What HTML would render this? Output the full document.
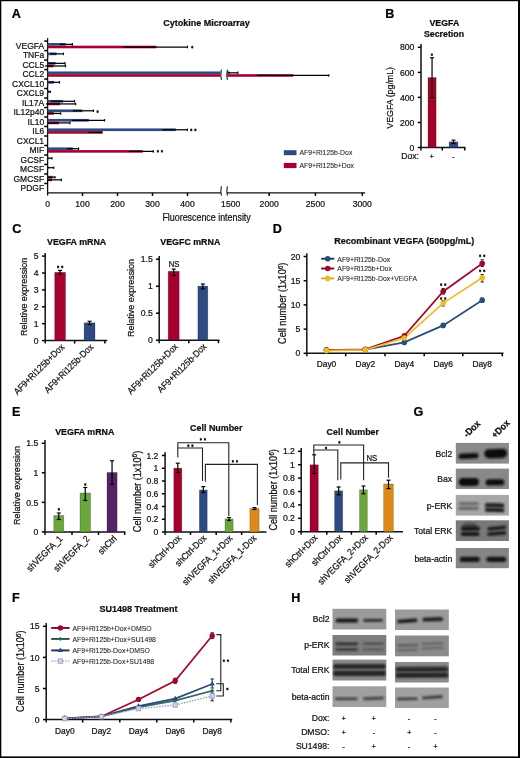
<!DOCTYPE html><html><head><meta charset="utf-8"><style>html,body{margin:0;padding:0;background:#fff}svg{display:block;font-family:"Liberation Sans",sans-serif;will-change:transform}text{stroke:currentColor;stroke-width:0.22px}</style></head><body>
<svg width="520" height="758" viewBox="0 0 520 758" fill="#1a1a1a">
<defs><filter id="bl" x="-20%" y="-50%" width="140%" height="200%"><feGaussianBlur stdDeviation="0.85"/></filter><filter id="bl0" x="-5%" y="-10%" width="110%" height="120%"><feGaussianBlur stdDeviation="0.45"/></filter><filter id="bl2" x="-20%" y="-50%" width="140%" height="200%"><feGaussianBlur stdDeviation="1.1"/></filter></defs>
<rect x="0" y="0" width="520" height="758" fill="#fff"/>
<text x="11.8" y="17.91" font-size="12.6" font-weight="bold" fill="#000">A</text>
<text x="385.3" y="17.91" font-size="12.6" font-weight="bold" fill="#000">B</text>
<text x="12.3" y="232.91" font-size="12.6" font-weight="bold" fill="#000">C</text>
<text x="272.7" y="232.91" font-size="12.6" font-weight="bold" fill="#000">D</text>
<text x="12" y="416.21" font-size="12.6" font-weight="bold" fill="#000">E</text>
<text x="413.6" y="416.21" font-size="12.6" font-weight="bold" fill="#000">G</text>
<text x="12" y="602.41" font-size="12.6" font-weight="bold" fill="#000">F</text>
<text x="291.3" y="602.41" font-size="12.6" font-weight="bold" fill="#000">H</text>
<text transform="translate(206.5 25.96) scale(0.91 1)" font-size="9.9" font-weight="bold" text-anchor="middle" fill="#111">Cytokine Microarray</text>
<line x1="47.6" y1="38.1" x2="47.6" y2="195.6" stroke="#111" stroke-width="1.3"/>
<line x1="44.2" y1="41.1" x2="47.6" y2="41.1" stroke="#000" stroke-width="1.5"/>
<line x1="44.2" y1="50.59" x2="47.6" y2="50.59" stroke="#000" stroke-width="1.5"/>
<line x1="44.2" y1="60.08" x2="47.6" y2="60.08" stroke="#000" stroke-width="1.5"/>
<line x1="44.2" y1="69.57" x2="47.6" y2="69.57" stroke="#000" stroke-width="1.5"/>
<line x1="44.2" y1="79.06" x2="47.6" y2="79.06" stroke="#000" stroke-width="1.5"/>
<line x1="44.2" y1="88.55" x2="47.6" y2="88.55" stroke="#000" stroke-width="1.5"/>
<line x1="44.2" y1="98.04" x2="47.6" y2="98.04" stroke="#000" stroke-width="1.5"/>
<line x1="44.2" y1="107.53" x2="47.6" y2="107.53" stroke="#000" stroke-width="1.5"/>
<line x1="44.2" y1="117.02" x2="47.6" y2="117.02" stroke="#000" stroke-width="1.5"/>
<line x1="44.2" y1="126.51" x2="47.6" y2="126.51" stroke="#000" stroke-width="1.5"/>
<line x1="44.2" y1="136" x2="47.6" y2="136" stroke="#000" stroke-width="1.5"/>
<line x1="44.2" y1="145.49" x2="47.6" y2="145.49" stroke="#000" stroke-width="1.5"/>
<line x1="44.2" y1="154.98" x2="47.6" y2="154.98" stroke="#000" stroke-width="1.5"/>
<line x1="44.2" y1="164.47" x2="47.6" y2="164.47" stroke="#000" stroke-width="1.5"/>
<line x1="44.2" y1="173.96" x2="47.6" y2="173.96" stroke="#000" stroke-width="1.5"/>
<line x1="44.2" y1="183.45" x2="47.6" y2="183.45" stroke="#000" stroke-width="1.5"/>
<text transform="translate(44.1 48.91) scale(0.97 1)" font-size="8.75" text-anchor="end">VEGFA</text>
<text transform="translate(44.1 58.4) scale(0.97 1)" font-size="8.75" text-anchor="end">TNFa</text>
<text transform="translate(44.1 67.89) scale(0.97 1)" font-size="8.75" text-anchor="end">CCL5</text>
<text transform="translate(44.1 77.38) scale(0.97 1)" font-size="8.75" text-anchor="end">CCL2</text>
<text transform="translate(44.1 86.87) scale(0.97 1)" font-size="8.75" text-anchor="end">CXCL10</text>
<text transform="translate(44.1 96.36) scale(0.97 1)" font-size="8.75" text-anchor="end">CXCL9</text>
<text transform="translate(44.1 105.85) scale(0.97 1)" font-size="8.75" text-anchor="end">IL17A</text>
<text transform="translate(44.1 115.34) scale(0.97 1)" font-size="8.75" text-anchor="end">IL12p40</text>
<text transform="translate(44.1 124.83) scale(0.97 1)" font-size="8.75" text-anchor="end">IL10</text>
<text transform="translate(44.1 134.32) scale(0.97 1)" font-size="8.75" text-anchor="end">IL6</text>
<text transform="translate(44.1 143.81) scale(0.97 1)" font-size="8.75" text-anchor="end">CXCL1</text>
<text transform="translate(44.1 153.3) scale(0.97 1)" font-size="8.75" text-anchor="end">MIF</text>
<text transform="translate(44.1 162.79) scale(0.97 1)" font-size="8.75" text-anchor="end">GCSF</text>
<text transform="translate(44.1 172.28) scale(0.97 1)" font-size="8.75" text-anchor="end">MCSF</text>
<text transform="translate(44.1 181.77) scale(0.97 1)" font-size="8.75" text-anchor="end">GMCSF</text>
<text transform="translate(44.1 191.26) scale(0.97 1)" font-size="8.75" text-anchor="end">PDGF</text>
<rect x="47.6" y="43" width="17.9" height="2.7" fill="#2e4a82"/>
<rect x="47.6" y="45.7" width="108.8" height="2.6" fill="#a6002e"/>
<line x1="59.6" y1="44.35" x2="72.4" y2="44.35" stroke="#000" stroke-width="1.25"/>
<line x1="72.4" y1="43.05" x2="72.4" y2="45.65" stroke="#000" stroke-width="1.1"/>
<line x1="123.5" y1="47" x2="187.5" y2="47" stroke="#000" stroke-width="1.25"/>
<line x1="187.5" y1="45.7" x2="187.5" y2="48.3" stroke="#000" stroke-width="1.1"/>
<rect x="47.6" y="52.49" width="8.9" height="2.7" fill="#2e4a82"/>
<rect x="47.6" y="55.19" width="0.7" height="2.6" fill="#a6002e"/>
<line x1="50" y1="53.84" x2="63.5" y2="53.84" stroke="#000" stroke-width="1.25"/>
<line x1="63.5" y1="52.54" x2="63.5" y2="55.14" stroke="#000" stroke-width="1.1"/>
<rect x="47.6" y="61.98" width="7.9" height="2.7" fill="#2e4a82"/>
<rect x="47.6" y="64.68" width="5.9" height="2.6" fill="#a6002e"/>
<line x1="48.5" y1="63.33" x2="65" y2="63.33" stroke="#000" stroke-width="1.25"/>
<line x1="65" y1="62.03" x2="65" y2="64.63" stroke="#000" stroke-width="1.1"/>
<line x1="45" y1="65.98" x2="65.5" y2="65.98" stroke="#000" stroke-width="1.25"/>
<line x1="65.5" y1="64.68" x2="65.5" y2="67.28" stroke="#000" stroke-width="1.1"/>
<rect x="47.6" y="80.96" width="6.4" height="2.7" fill="#2e4a82"/>
<rect x="47.6" y="83.66" width="0.6" height="2.6" fill="#a6002e"/>
<line x1="48.5" y1="82.31" x2="59.5" y2="82.31" stroke="#000" stroke-width="1.25"/>
<line x1="59.5" y1="81.01" x2="59.5" y2="83.61" stroke="#000" stroke-width="1.1"/>
<rect x="47.6" y="90.45" width="1.7" height="2.7" fill="#2e4a82"/>
<rect x="47.6" y="93.15" width="0.2" height="2.6" fill="#a6002e"/>
<line x1="48" y1="91.8" x2="50.3" y2="91.8" stroke="#000" stroke-width="1.25"/>
<line x1="50.3" y1="90.5" x2="50.3" y2="93.1" stroke="#000" stroke-width="1.1"/>
<rect x="47.6" y="99.94" width="15.4" height="2.7" fill="#2e4a82"/>
<rect x="47.6" y="102.64" width="12.4" height="2.6" fill="#a6002e"/>
<line x1="51" y1="101.29" x2="74.5" y2="101.29" stroke="#000" stroke-width="1.25"/>
<line x1="74.5" y1="99.99" x2="74.5" y2="102.59" stroke="#000" stroke-width="1.1"/>
<line x1="46" y1="103.94" x2="75.7" y2="103.94" stroke="#000" stroke-width="1.25"/>
<line x1="75.7" y1="102.64" x2="75.7" y2="105.24" stroke="#000" stroke-width="1.1"/>
<rect x="47.6" y="109.43" width="34.8" height="2.7" fill="#2e4a82"/>
<rect x="47.6" y="112.13" width="6.4" height="2.6" fill="#a6002e"/>
<line x1="72.7" y1="110.78" x2="93.5" y2="110.78" stroke="#000" stroke-width="1.25"/>
<line x1="93.5" y1="109.48" x2="93.5" y2="112.08" stroke="#000" stroke-width="1.1"/>
<line x1="47.5" y1="113.43" x2="60.7" y2="113.43" stroke="#000" stroke-width="1.25"/>
<line x1="60.7" y1="112.13" x2="60.7" y2="114.73" stroke="#000" stroke-width="1.1"/>
<rect x="47.6" y="118.92" width="41.3" height="2.7" fill="#2e4a82"/>
<rect x="47.6" y="121.62" width="11.3" height="2.6" fill="#a6002e"/>
<line x1="72" y1="120.27" x2="104.6" y2="120.27" stroke="#000" stroke-width="1.25"/>
<line x1="104.6" y1="118.97" x2="104.6" y2="121.57" stroke="#000" stroke-width="1.1"/>
<line x1="48" y1="122.92" x2="70" y2="122.92" stroke="#000" stroke-width="1.25"/>
<line x1="70" y1="121.62" x2="70" y2="124.22" stroke="#000" stroke-width="1.1"/>
<rect x="47.6" y="128.41" width="128.2" height="2.7" fill="#2e4a82"/>
<rect x="47.6" y="131.11" width="53.9" height="2.6" fill="#a6002e"/>
<line x1="162.3" y1="129.76" x2="187.4" y2="129.76" stroke="#000" stroke-width="1.25"/>
<line x1="187.4" y1="128.46" x2="187.4" y2="131.06" stroke="#000" stroke-width="1.1"/>
<line x1="88.3" y1="132.41" x2="102" y2="132.41" stroke="#000" stroke-width="1.25"/>
<line x1="102" y1="131.11" x2="102" y2="133.71" stroke="#000" stroke-width="1.1"/>
<rect x="47.6" y="147.39" width="25.2" height="2.7" fill="#2e4a82"/>
<rect x="47.6" y="150.09" width="95.2" height="2.6" fill="#a6002e"/>
<line x1="67" y1="148.74" x2="78.6" y2="148.74" stroke="#000" stroke-width="1.25"/>
<line x1="78.6" y1="147.44" x2="78.6" y2="150.04" stroke="#000" stroke-width="1.1"/>
<line x1="128.7" y1="151.39" x2="153.3" y2="151.39" stroke="#000" stroke-width="1.25"/>
<line x1="153.3" y1="150.09" x2="153.3" y2="152.69" stroke="#000" stroke-width="1.1"/>
<rect x="47.6" y="156.88" width="0.9" height="2.7" fill="#2e4a82"/>
<rect x="47.6" y="159.58" width="0.2" height="2.6" fill="#a6002e"/>
<line x1="47.5" y1="158.23" x2="52" y2="158.23" stroke="#000" stroke-width="1.25"/>
<line x1="52" y1="156.93" x2="52" y2="159.53" stroke="#000" stroke-width="1.1"/>
<rect x="47.6" y="166.37" width="0.9" height="2.7" fill="#2e4a82"/>
<rect x="47.6" y="169.07" width="0.2" height="2.6" fill="#a6002e"/>
<line x1="47.5" y1="167.72" x2="53.8" y2="167.72" stroke="#000" stroke-width="1.25"/>
<line x1="53.8" y1="166.42" x2="53.8" y2="169.02" stroke="#000" stroke-width="1.1"/>
<rect x="47.6" y="175.86" width="5.1" height="2.7" fill="#2e4a82"/>
<rect x="47.6" y="178.56" width="4.4" height="2.6" fill="#a6002e"/>
<line x1="47.5" y1="177.21" x2="55" y2="177.21" stroke="#000" stroke-width="1.25"/>
<line x1="55" y1="175.91" x2="55" y2="178.51" stroke="#000" stroke-width="1.1"/>
<line x1="47.5" y1="179.86" x2="61.3" y2="179.86" stroke="#000" stroke-width="1.25"/>
<line x1="61.3" y1="178.56" x2="61.3" y2="181.16" stroke="#000" stroke-width="1.1"/>
<rect x="47.6" y="71.47" width="172.7" height="2.7" fill="#2e4a82"/>
<rect x="47.6" y="74.17" width="172.7" height="2.6" fill="#a6002e"/>
<rect x="227.3" y="71.47" width="2.5" height="2.7" fill="#2e4a82"/>
<rect x="227.3" y="74.17" width="66" height="2.6" fill="#a6002e"/>
<line x1="228" y1="72.82" x2="237.9" y2="72.82" stroke="#000" stroke-width="1.25"/>
<line x1="237.9" y1="71.52" x2="237.9" y2="74.12" stroke="#000" stroke-width="1.1"/>
<line x1="256.6" y1="75.47" x2="328.8" y2="75.47" stroke="#000" stroke-width="1.25"/>
<line x1="328.8" y1="74.17" x2="328.8" y2="76.77" stroke="#000" stroke-width="1.1"/>
<path d="M221.4 69.7 Q220.2 74.75 221.4 79.8" fill="none" stroke="#1a1a1a" stroke-width="1.1"/>
<path d="M227.4 69.7 Q226.2 74.75 227.4 79.8" fill="none" stroke="#1a1a1a" stroke-width="1.1"/>
<path d="M192.3 45.8 v2.8 M191.22 46.58 l2.16 1.24 M191.22 47.82 l2.16 -1.24" stroke="#111" stroke-width="0.85" fill="none"/>
<circle cx="192.3" cy="47.2" r="0.85" fill="#111"/>
<path d="M97.6 110.2 v2.8 M96.52 110.98 l2.16 1.24 M96.52 112.22 l2.16 -1.24" stroke="#111" stroke-width="0.85" fill="none"/>
<circle cx="97.6" cy="111.6" r="0.85" fill="#111"/>
<path d="M191.3 128.5 v2.8 M190.22 129.28 l2.16 1.24 M190.22 130.52 l2.16 -1.24" stroke="#111" stroke-width="0.85" fill="none"/>
<circle cx="191.3" cy="129.9" r="0.85" fill="#111"/>
<path d="M195.4 128.5 v2.8 M194.32 129.28 l2.16 1.24 M194.32 130.52 l2.16 -1.24" stroke="#111" stroke-width="0.85" fill="none"/>
<circle cx="195.4" cy="129.9" r="0.85" fill="#111"/>
<path d="M157.85 149.9 v2.8 M156.77 150.68 l2.16 1.24 M156.77 151.92 l2.16 -1.24" stroke="#111" stroke-width="0.85" fill="none"/>
<circle cx="157.85" cy="151.3" r="0.85" fill="#111"/>
<path d="M161.95 149.9 v2.8 M160.87 150.68 l2.16 1.24 M160.87 151.92 l2.16 -1.24" stroke="#111" stroke-width="0.85" fill="none"/>
<circle cx="161.95" cy="151.3" r="0.85" fill="#111"/>
<line x1="47" y1="192.9" x2="220.9" y2="192.9" stroke="#111" stroke-width="1.3"/>
<line x1="226.9" y1="192.9" x2="365.2" y2="192.9" stroke="#111" stroke-width="1.3"/>
<path d="M221.4 186.3 Q220.2 190.95 221.4 195.6" fill="none" stroke="#1a1a1a" stroke-width="1.1"/>
<path d="M227.4 186.3 Q226.2 190.95 227.4 195.6" fill="none" stroke="#1a1a1a" stroke-width="1.1"/>
<line x1="82.5" y1="192.9" x2="82.5" y2="195.9" stroke="#000" stroke-width="1.5"/>
<text transform="translate(82.5 206.65) scale(0.96 1)" font-size="9" text-anchor="middle">100</text>
<line x1="117.5" y1="192.9" x2="117.5" y2="195.9" stroke="#000" stroke-width="1.5"/>
<text transform="translate(117.5 206.65) scale(0.96 1)" font-size="9" text-anchor="middle">200</text>
<line x1="152.5" y1="192.9" x2="152.5" y2="195.9" stroke="#000" stroke-width="1.5"/>
<text transform="translate(152.5 206.65) scale(0.96 1)" font-size="9" text-anchor="middle">300</text>
<line x1="187.5" y1="192.9" x2="187.5" y2="195.9" stroke="#000" stroke-width="1.5"/>
<text transform="translate(187.5 206.65) scale(0.96 1)" font-size="9" text-anchor="middle">400</text>
<line x1="269.2" y1="192.9" x2="269.2" y2="195.9" stroke="#000" stroke-width="1.5"/>
<text transform="translate(269.2 206.65) scale(0.96 1)" font-size="9" text-anchor="middle">2000</text>
<line x1="315.4" y1="192.9" x2="315.4" y2="195.9" stroke="#000" stroke-width="1.5"/>
<text transform="translate(315.4 206.65) scale(0.96 1)" font-size="9" text-anchor="middle">2500</text>
<line x1="362.3" y1="192.9" x2="362.3" y2="195.9" stroke="#000" stroke-width="1.5"/>
<text transform="translate(362.3 206.65) scale(0.96 1)" font-size="9" text-anchor="middle">3000</text>
<text transform="translate(47.6 206.65) scale(0.96 1)" font-size="9" text-anchor="middle">0</text>
<text transform="translate(230.7 206.65) scale(0.96 1)" font-size="9" text-anchor="middle">1500</text>
<text x="206.6" y="220.5" font-size="10" text-anchor="middle" textLength="88.4" lengthAdjust="spacingAndGlyphs">Fluorescence intensity</text>
<rect x="283.8" y="150.2" width="12.7" height="5" fill="#2e4a82"/>
<rect x="283.8" y="162.9" width="12.7" height="5.2" fill="#a6002e"/>
<text transform="translate(299.5 155.49) scale(0.93 1)" font-size="7.4" fill="#2a2a2a" style="stroke-width:0.08px">AF9+Ri125b-Dox</text>
<text transform="translate(299.5 168.29) scale(0.93 1)" font-size="7.4" fill="#2a2a2a" style="stroke-width:0.08px">AF9+Ri125b+Dox</text>
<text transform="translate(444.4 26.49) scale(0.91 1)" font-size="9.68" font-weight="bold" text-anchor="middle" fill="#111">VEGFA</text>
<text transform="translate(444 37.29) scale(0.91 1)" font-size="9.68" font-weight="bold" text-anchor="middle" fill="#111">Secretion</text>
<line x1="421" y1="44.1" x2="421" y2="150.5" stroke="#111" stroke-width="1.5"/>
<line x1="417.8" y1="47.3" x2="421" y2="47.3" stroke="#000" stroke-width="1.5"/>
<text transform="translate(414.4 50.45) scale(0.96 1)" font-size="9" text-anchor="end">800</text>
<line x1="417.8" y1="72.4" x2="421" y2="72.4" stroke="#000" stroke-width="1.5"/>
<text transform="translate(414.4 75.55) scale(0.96 1)" font-size="9" text-anchor="end">600</text>
<line x1="417.8" y1="97.4" x2="421" y2="97.4" stroke="#000" stroke-width="1.5"/>
<text transform="translate(414.4 100.55) scale(0.96 1)" font-size="9" text-anchor="end">400</text>
<line x1="417.8" y1="122.5" x2="421" y2="122.5" stroke="#000" stroke-width="1.5"/>
<text transform="translate(414.4 125.65) scale(0.96 1)" font-size="9" text-anchor="end">200</text>
<line x1="417.8" y1="147.5" x2="421" y2="147.5" stroke="#000" stroke-width="1.5"/>
<text transform="translate(414.4 150.65) scale(0.96 1)" font-size="9" text-anchor="end">0</text>
<line x1="421" y1="147.5" x2="465.5" y2="147.5" stroke="#111" stroke-width="1.5"/>
<line x1="442.3" y1="147.5" x2="442.3" y2="150.5" stroke="#000" stroke-width="1.5"/>
<line x1="464.7" y1="147.5" x2="464.7" y2="150.5" stroke="#000" stroke-width="1.5"/>
<text transform="translate(393.1 97.8) rotate(-90) scale(0.91 1)" font-size="9.68" text-anchor="middle" fill="#1a1a1a">VEGFA (pg/mL)</text>
<rect x="428" y="77.6" width="8.1" height="69.9" fill="#a6002e" stroke="#000" stroke-opacity="0.3" stroke-width="0.7"/>
<line x1="432.05" y1="57.8" x2="432.05" y2="97.7" stroke="#000" stroke-width="1.2"/>
<line x1="430.05" y1="57.8" x2="434.05" y2="57.8" stroke="#000" stroke-width="1.2"/>
<line x1="430.05" y1="97.7" x2="434.05" y2="97.7" stroke="#000" stroke-width="1.2"/>
<path d="M431.9 53.2 v2.8 M430.82 53.98 l2.16 1.24 M430.82 55.22 l2.16 -1.24" stroke="#111" stroke-width="0.85" fill="none"/>
<circle cx="431.9" cy="54.6" r="0.85" fill="#111"/>
<rect x="449.1" y="141.9" width="8.8" height="5.6" fill="#2e4a82" stroke="#000" stroke-opacity="0.3" stroke-width="0.7"/>
<line x1="453.5" y1="140.2" x2="453.5" y2="143.5" stroke="#000" stroke-width="1.2"/>
<line x1="451.5" y1="140.2" x2="455.5" y2="140.2" stroke="#000" stroke-width="1.2"/>
<line x1="451.5" y1="143.5" x2="455.5" y2="143.5" stroke="#000" stroke-width="1.2"/>
<text x="419" y="159.31" font-size="8.6" text-anchor="end">Dox:</text>
<text x="431.8" y="159.38" font-size="6.8" text-anchor="middle" fill="#2a2a2a">+</text>
<text x="453.4" y="158.98" font-size="6.8" text-anchor="middle" fill="#2a2a2a">-</text>
<text transform="translate(76.6 244.71) scale(0.91 1)" font-size="9.74" font-weight="bold" text-anchor="middle" fill="#111">VEGFA mRNA</text>
<line x1="45.2" y1="252.9" x2="45.2" y2="343.6" stroke="#111" stroke-width="1.5"/>
<line x1="42" y1="340.6" x2="45.2" y2="340.6" stroke="#000" stroke-width="1.5"/>
<text transform="translate(38.6 343.75) scale(0.96 1)" font-size="9" text-anchor="end">0</text>
<line x1="42" y1="323.7" x2="45.2" y2="323.7" stroke="#000" stroke-width="1.5"/>
<text transform="translate(38.6 326.85) scale(0.96 1)" font-size="9" text-anchor="end">1</text>
<line x1="42" y1="306.8" x2="45.2" y2="306.8" stroke="#000" stroke-width="1.5"/>
<text transform="translate(38.6 309.95) scale(0.96 1)" font-size="9" text-anchor="end">2</text>
<line x1="42" y1="289.9" x2="45.2" y2="289.9" stroke="#000" stroke-width="1.5"/>
<text transform="translate(38.6 293.05) scale(0.96 1)" font-size="9" text-anchor="end">3</text>
<line x1="42" y1="273" x2="45.2" y2="273" stroke="#000" stroke-width="1.5"/>
<text transform="translate(38.6 276.15) scale(0.96 1)" font-size="9" text-anchor="end">4</text>
<line x1="42" y1="256.1" x2="45.2" y2="256.1" stroke="#000" stroke-width="1.5"/>
<text transform="translate(38.6 259.25) scale(0.96 1)" font-size="9" text-anchor="end">5</text>
<line x1="45.2" y1="340.6" x2="107.2" y2="340.6" stroke="#111" stroke-width="1.5"/>
<line x1="74.6" y1="340.6" x2="74.6" y2="343.6" stroke="#000" stroke-width="1.5"/>
<line x1="104.9" y1="340.6" x2="104.9" y2="343.6" stroke="#000" stroke-width="1.5"/>
<text transform="translate(27 296.9) rotate(-90) scale(0.91 1)" font-size="9.85" text-anchor="middle" fill="#1a1a1a">Relative expression</text>
<rect x="54.7" y="272.3" width="10.8" height="68.3" fill="#a6002e" stroke="#000" stroke-opacity="0.3" stroke-width="0.7"/>
<line x1="60.1" y1="270.4" x2="60.1" y2="274.2" stroke="#000" stroke-width="1.2"/>
<line x1="58.1" y1="270.4" x2="62.1" y2="270.4" stroke="#000" stroke-width="1.2"/>
<line x1="58.1" y1="274.2" x2="62.1" y2="274.2" stroke="#000" stroke-width="1.2"/>
<path d="M58.15 265.5 v2.8 M57.07 266.28 l2.16 1.24 M57.07 267.52 l2.16 -1.24" stroke="#111" stroke-width="0.85" fill="none"/>
<circle cx="58.15" cy="266.9" r="0.85" fill="#111"/>
<path d="M62.25 265.5 v2.8 M61.17 266.28 l2.16 1.24 M61.17 267.52 l2.16 -1.24" stroke="#111" stroke-width="0.85" fill="none"/>
<circle cx="62.25" cy="266.9" r="0.85" fill="#111"/>
<rect x="84.1" y="322.8" width="10.9" height="17.8" fill="#2e4a82" stroke="#000" stroke-opacity="0.3" stroke-width="0.7"/>
<line x1="89.55" y1="321.3" x2="89.55" y2="324.5" stroke="#000" stroke-width="1.2"/>
<line x1="87.55" y1="321.3" x2="91.55" y2="321.3" stroke="#000" stroke-width="1.2"/>
<line x1="87.55" y1="324.5" x2="91.55" y2="324.5" stroke="#000" stroke-width="1.2"/>
<text transform="translate(64.9 347.7) rotate(-45) scale(0.91 1)" font-size="9.29" text-anchor="end" fill="#1a1a1a">AF9+Ri125b+Dox</text>
<text transform="translate(93.9 347.7) rotate(-45) scale(0.91 1)" font-size="9.29" text-anchor="end" fill="#1a1a1a">AF9+Ri125b-Dox</text>
<text transform="translate(190.3 245.01) scale(0.91 1)" font-size="9.74" font-weight="bold" text-anchor="middle" fill="#111">VEGFC mRNA</text>
<line x1="159.2" y1="256" x2="159.2" y2="343.2" stroke="#111" stroke-width="1.5"/>
<line x1="156" y1="259.2" x2="159.2" y2="259.2" stroke="#000" stroke-width="1.5"/>
<text transform="translate(152.7 262.35) scale(0.96 1)" font-size="9" text-anchor="end">1.5</text>
<line x1="156" y1="286.2" x2="159.2" y2="286.2" stroke="#000" stroke-width="1.5"/>
<text transform="translate(152.7 289.35) scale(0.96 1)" font-size="9" text-anchor="end">1</text>
<line x1="156" y1="313.2" x2="159.2" y2="313.2" stroke="#000" stroke-width="1.5"/>
<text transform="translate(152.7 316.35) scale(0.96 1)" font-size="9" text-anchor="end">0.5</text>
<line x1="156" y1="340.2" x2="159.2" y2="340.2" stroke="#000" stroke-width="1.5"/>
<text transform="translate(152.7 343.35) scale(0.96 1)" font-size="9" text-anchor="end">0</text>
<line x1="159.2" y1="340.2" x2="219.5" y2="340.2" stroke="#111" stroke-width="1.5"/>
<line x1="188.8" y1="340.2" x2="188.8" y2="343.2" stroke="#000" stroke-width="1.5"/>
<line x1="218.5" y1="340.2" x2="218.5" y2="343.2" stroke="#000" stroke-width="1.5"/>
<text transform="translate(133.9 298) rotate(-90) scale(0.91 1)" font-size="9.85" text-anchor="middle" fill="#1a1a1a">Relative expression</text>
<rect x="168.2" y="271.3" width="11" height="68.9" fill="#a6002e" stroke="#000" stroke-opacity="0.3" stroke-width="0.7"/>
<line x1="173.7" y1="269.1" x2="173.7" y2="275.5" stroke="#000" stroke-width="1.2"/>
<line x1="171.7" y1="269.1" x2="175.7" y2="269.1" stroke="#000" stroke-width="1.2"/>
<line x1="171.7" y1="275.5" x2="175.7" y2="275.5" stroke="#000" stroke-width="1.2"/>
<text transform="translate(174 266.61) scale(0.9 1)" font-size="8.6" text-anchor="middle">NS</text>
<rect x="197.9" y="286.1" width="9.9" height="54.1" fill="#2e4a82" stroke="#000" stroke-opacity="0.3" stroke-width="0.7"/>
<line x1="202.85" y1="284" x2="202.85" y2="288.8" stroke="#000" stroke-width="1.2"/>
<line x1="200.85" y1="284" x2="204.85" y2="284" stroke="#000" stroke-width="1.2"/>
<line x1="200.85" y1="288.8" x2="204.85" y2="288.8" stroke="#000" stroke-width="1.2"/>
<text transform="translate(178.5 347.3) rotate(-45) scale(0.91 1)" font-size="9.29" text-anchor="end" fill="#1a1a1a">AF9+Ri125b+Dox</text>
<text transform="translate(207.1 347.3) rotate(-45) scale(0.91 1)" font-size="9.29" text-anchor="end" fill="#1a1a1a">AF9+Ri125b-Dox</text>
<text x="404.2" y="244.47" font-size="9.9" font-weight="bold" text-anchor="middle" fill="#111" textLength="140" lengthAdjust="spacingAndGlyphs">Recombinant VEGFA (500pg/mL)</text>
<line x1="306.8" y1="253.3" x2="306.8" y2="356.3" stroke="#111" stroke-width="1.5"/>
<line x1="303.6" y1="353.3" x2="306.8" y2="353.3" stroke="#000" stroke-width="1.5"/>
<text transform="translate(300.3 356.45) scale(0.96 1)" font-size="9" text-anchor="end">0</text>
<line x1="303.6" y1="329.1" x2="306.8" y2="329.1" stroke="#000" stroke-width="1.5"/>
<text transform="translate(300.3 332.25) scale(0.96 1)" font-size="9" text-anchor="end">5</text>
<line x1="303.6" y1="304.9" x2="306.8" y2="304.9" stroke="#000" stroke-width="1.5"/>
<text transform="translate(300.3 308.05) scale(0.96 1)" font-size="9" text-anchor="end">10</text>
<line x1="303.6" y1="280.7" x2="306.8" y2="280.7" stroke="#000" stroke-width="1.5"/>
<text transform="translate(300.3 283.85) scale(0.96 1)" font-size="9" text-anchor="end">15</text>
<line x1="303.6" y1="256.5" x2="306.8" y2="256.5" stroke="#000" stroke-width="1.5"/>
<text transform="translate(300.3 259.65) scale(0.96 1)" font-size="9" text-anchor="end">20</text>
<line x1="306.8" y1="353.3" x2="503.5" y2="353.3" stroke="#111" stroke-width="1.5"/>
<line x1="345.7" y1="353.3" x2="345.7" y2="356.3" stroke="#000" stroke-width="1.5"/>
<line x1="385" y1="353.3" x2="385" y2="356.3" stroke="#000" stroke-width="1.5"/>
<line x1="424.2" y1="353.3" x2="424.2" y2="356.3" stroke="#000" stroke-width="1.5"/>
<line x1="462.8" y1="353.3" x2="462.8" y2="356.3" stroke="#000" stroke-width="1.5"/>
<line x1="502.3" y1="353.3" x2="502.3" y2="356.3" stroke="#000" stroke-width="1.5"/>
<text x="326.5" y="367.24" font-size="8.4" text-anchor="middle">Day0</text>
<text x="365.4" y="367.24" font-size="8.4" text-anchor="middle">Day2</text>
<text x="404.3" y="367.24" font-size="8.4" text-anchor="middle">Day4</text>
<text x="443.2" y="367.24" font-size="8.4" text-anchor="middle">Day6</text>
<text x="482.2" y="367.24" font-size="8.4" text-anchor="middle">Day8</text>
<text transform="translate(286.1 303.3) rotate(-90) scale(0.91 1)" font-size="10.07" text-anchor="middle" fill="#1a1a1a">Cell number (1x10<tspan font-size="7.05" dy="-3.4">6</tspan><tspan dy="3.4">)</tspan></text>
<polyline points="326.5,350 365.4,349.6 404.3,342.4 443.2,325.4 482.2,300.2" fill="none" stroke="#2c4c7c" stroke-width="1.7"/>
<polyline points="326.5,350 365.4,349.4 404.3,335.7 443.2,291.5 482.2,263.5" fill="none" stroke="#a3082c" stroke-width="1.7"/>
<polyline points="326.5,350.6 365.4,349.8 404.3,338 443.2,303.1 482.2,277.7" fill="none" stroke="#eebb28" stroke-width="1.7"/>
<line x1="482.2" y1="259.8" x2="482.2" y2="266.5" stroke="#222" stroke-width="1"/>
<line x1="480.6" y1="259.8" x2="483.8" y2="259.8" stroke="#222" stroke-width="1"/>
<line x1="480.6" y1="266.5" x2="483.8" y2="266.5" stroke="#222" stroke-width="1"/>
<line x1="443.2" y1="288.5" x2="443.2" y2="294" stroke="#222" stroke-width="1"/>
<line x1="441.6" y1="288.5" x2="444.8" y2="288.5" stroke="#222" stroke-width="1"/>
<line x1="441.6" y1="294" x2="444.8" y2="294" stroke="#222" stroke-width="1"/>
<line x1="482.2" y1="274.6" x2="482.2" y2="282" stroke="#222" stroke-width="1"/>
<line x1="480.6" y1="274.6" x2="483.8" y2="274.6" stroke="#222" stroke-width="1"/>
<line x1="480.6" y1="282" x2="483.8" y2="282" stroke="#222" stroke-width="1"/>
<line x1="443.2" y1="300.5" x2="443.2" y2="306" stroke="#222" stroke-width="1"/>
<line x1="441.6" y1="300.5" x2="444.8" y2="300.5" stroke="#222" stroke-width="1"/>
<line x1="441.6" y1="306" x2="444.8" y2="306" stroke="#222" stroke-width="1"/>
<line x1="482.2" y1="298" x2="482.2" y2="302.5" stroke="#222" stroke-width="1"/>
<line x1="480.6" y1="298" x2="483.8" y2="298" stroke="#222" stroke-width="1"/>
<line x1="480.6" y1="302.5" x2="483.8" y2="302.5" stroke="#222" stroke-width="1"/>
<circle cx="326.5" cy="350" r="2.8" fill="#2c4c7c"/>
<circle cx="365.4" cy="349.6" r="2.8" fill="#2c4c7c"/>
<circle cx="404.3" cy="342.4" r="2.8" fill="#2c4c7c"/>
<circle cx="443.2" cy="325.4" r="2.8" fill="#2c4c7c"/>
<circle cx="482.2" cy="300.2" r="2.8" fill="#2c4c7c"/>
<circle cx="326.5" cy="350" r="2.8" fill="#a3082c"/>
<circle cx="365.4" cy="349.4" r="2.8" fill="#a3082c"/>
<circle cx="404.3" cy="335.7" r="2.8" fill="#a3082c"/>
<circle cx="443.2" cy="291.5" r="2.8" fill="#a3082c"/>
<circle cx="482.2" cy="263.5" r="2.8" fill="#a3082c"/>
<circle cx="326.5" cy="350.6" r="2.8" fill="#eebb28"/>
<circle cx="365.4" cy="349.8" r="2.8" fill="#eebb28"/>
<circle cx="404.3" cy="338" r="2.8" fill="#eebb28"/>
<circle cx="443.2" cy="303.1" r="2.8" fill="#eebb28"/>
<circle cx="482.2" cy="277.7" r="2.8" fill="#eebb28"/>
<path d="M441.15 283.2 v2.8 M440.07 283.98 l2.16 1.24 M440.07 285.22 l2.16 -1.24" stroke="#111" stroke-width="0.85" fill="none"/>
<circle cx="441.15" cy="284.6" r="0.85" fill="#111"/>
<path d="M445.25 283.2 v2.8 M444.17 283.98 l2.16 1.24 M444.17 285.22 l2.16 -1.24" stroke="#111" stroke-width="0.85" fill="none"/>
<circle cx="445.25" cy="284.6" r="0.85" fill="#111"/>
<path d="M441.15 297.1 v2.8 M440.07 297.88 l2.16 1.24 M440.07 299.12 l2.16 -1.24" stroke="#111" stroke-width="0.85" fill="none"/>
<circle cx="441.15" cy="298.5" r="0.85" fill="#111"/>
<path d="M445.25 297.1 v2.8 M444.17 297.88 l2.16 1.24 M444.17 299.12 l2.16 -1.24" stroke="#111" stroke-width="0.85" fill="none"/>
<circle cx="445.25" cy="298.5" r="0.85" fill="#111"/>
<path d="M480.15 254.4 v2.8 M479.07 255.18 l2.16 1.24 M479.07 256.42 l2.16 -1.24" stroke="#111" stroke-width="0.85" fill="none"/>
<circle cx="480.15" cy="255.8" r="0.85" fill="#111"/>
<path d="M484.25 254.4 v2.8 M483.17 255.18 l2.16 1.24 M483.17 256.42 l2.16 -1.24" stroke="#111" stroke-width="0.85" fill="none"/>
<circle cx="484.25" cy="255.8" r="0.85" fill="#111"/>
<path d="M480.15 269.4 v2.8 M479.07 270.18 l2.16 1.24 M479.07 271.42 l2.16 -1.24" stroke="#111" stroke-width="0.85" fill="none"/>
<circle cx="480.15" cy="270.8" r="0.85" fill="#111"/>
<path d="M484.25 269.4 v2.8 M483.17 270.18 l2.16 1.24 M483.17 271.42 l2.16 -1.24" stroke="#111" stroke-width="0.85" fill="none"/>
<circle cx="484.25" cy="270.8" r="0.85" fill="#111"/>
<line x1="321.2" y1="258.7" x2="334.2" y2="258.7" stroke="#2c4c7c" stroke-width="1.7"/>
<line x1="321.2" y1="258.7" x2="334.2" y2="258.7" stroke="#000" stroke-width="1.7" stroke-opacity="0.35"/>
<circle cx="327.7" cy="258.7" r="2.8" fill="#2c4c7c"/>
<text transform="translate(337.3 261.59) scale(0.93 1)" font-size="7.4" fill="#2a2a2a" style="stroke-width:0.08px">AF9+Ri125b-Dox</text>
<line x1="321.2" y1="268.5" x2="334.2" y2="268.5" stroke="#a3082c" stroke-width="1.7"/>
<line x1="321.2" y1="268.5" x2="334.2" y2="268.5" stroke="#000" stroke-width="1.7" stroke-opacity="0.35"/>
<circle cx="327.7" cy="268.5" r="2.8" fill="#a3082c"/>
<text transform="translate(337.3 271.39) scale(0.93 1)" font-size="7.4" fill="#2a2a2a" style="stroke-width:0.08px">AF9+Ri125b+Dox</text>
<line x1="321.2" y1="278.4" x2="334.2" y2="278.4" stroke="#eebb28" stroke-width="1.7"/>
<line x1="321.2" y1="278.4" x2="334.2" y2="278.4" stroke="#000" stroke-width="1.7" stroke-opacity="0.15"/>
<circle cx="327.7" cy="278.4" r="2.8" fill="#eebb28"/>
<text transform="translate(337.3 281.29) scale(0.93 1)" font-size="7.4" fill="#2a2a2a" style="stroke-width:0.08px">AF9+Ri125b-Dox+VEGFA</text>
<text transform="translate(84.8 435.41) scale(0.91 1)" font-size="9.74" font-weight="bold" text-anchor="middle" fill="#111">VEGFA mRNA</text>
<line x1="45" y1="440.05" x2="45" y2="534.9" stroke="#111" stroke-width="1.5"/>
<line x1="41.8" y1="531.9" x2="45" y2="531.9" stroke="#000" stroke-width="1.5"/>
<text transform="translate(38.3 535.05) scale(0.96 1)" font-size="9" text-anchor="end">0</text>
<line x1="41.8" y1="502.35" x2="45" y2="502.35" stroke="#000" stroke-width="1.5"/>
<text transform="translate(38.3 505.5) scale(0.96 1)" font-size="9" text-anchor="end">0.5</text>
<line x1="41.8" y1="472.8" x2="45" y2="472.8" stroke="#000" stroke-width="1.5"/>
<text transform="translate(38.3 475.95) scale(0.96 1)" font-size="9" text-anchor="end">1</text>
<line x1="41.8" y1="443.25" x2="45" y2="443.25" stroke="#000" stroke-width="1.5"/>
<text transform="translate(38.3 446.4) scale(0.96 1)" font-size="9" text-anchor="end">1.5</text>
<line x1="45" y1="531.9" x2="125.2" y2="531.9" stroke="#111" stroke-width="1.5"/>
<line x1="72" y1="531.9" x2="72" y2="534.9" stroke="#000" stroke-width="1.5"/>
<line x1="98.5" y1="531.9" x2="98.5" y2="534.9" stroke="#000" stroke-width="1.5"/>
<line x1="124.7" y1="531.9" x2="124.7" y2="534.9" stroke="#000" stroke-width="1.5"/>
<text transform="translate(20 485.5) rotate(-90) scale(0.91 1)" font-size="9.96" text-anchor="middle" fill="#1a1a1a">Relative expression</text>
<rect x="53.8" y="515.5" width="10" height="16.4" fill="#6aa83c" stroke="#000" stroke-opacity="0.3" stroke-width="0.7"/>
<line x1="58.8" y1="513" x2="58.8" y2="519.5" stroke="#000" stroke-width="1.2"/>
<line x1="56.8" y1="513" x2="60.8" y2="513" stroke="#000" stroke-width="1.2"/>
<line x1="56.8" y1="519.5" x2="60.8" y2="519.5" stroke="#000" stroke-width="1.2"/>
<path d="M58.8 507.9 v2.8 M57.72 508.68 l2.16 1.24 M57.72 509.92 l2.16 -1.24" stroke="#111" stroke-width="0.85" fill="none"/>
<circle cx="58.8" cy="509.3" r="0.85" fill="#111"/>
<rect x="80" y="493" width="10.5" height="38.9" fill="#6aa83c" stroke="#000" stroke-opacity="0.3" stroke-width="0.7"/>
<line x1="85.25" y1="487.5" x2="85.25" y2="500.5" stroke="#000" stroke-width="1.2"/>
<line x1="83.25" y1="487.5" x2="87.25" y2="487.5" stroke="#000" stroke-width="1.2"/>
<line x1="83.25" y1="500.5" x2="87.25" y2="500.5" stroke="#000" stroke-width="1.2"/>
<path d="M85.3 483.1 v2.8 M84.22 483.88 l2.16 1.24 M84.22 485.12 l2.16 -1.24" stroke="#111" stroke-width="0.85" fill="none"/>
<circle cx="85.3" cy="484.5" r="0.85" fill="#111"/>
<rect x="107" y="472.5" width="10.1" height="59.4" fill="#562266" stroke="#000" stroke-opacity="0.3" stroke-width="0.7"/>
<line x1="112.05" y1="460.8" x2="112.05" y2="484.5" stroke="#000" stroke-width="1.2"/>
<line x1="110.05" y1="460.8" x2="114.05" y2="460.8" stroke="#000" stroke-width="1.2"/>
<line x1="110.05" y1="484.5" x2="114.05" y2="484.5" stroke="#000" stroke-width="1.2"/>
<text transform="translate(63.1 539.3) rotate(-45) scale(0.91 1)" font-size="9.29" text-anchor="end" fill="#1a1a1a">shVEGFA_1</text>
<text transform="translate(90.1 539.3) rotate(-45) scale(0.91 1)" font-size="9.29" text-anchor="end" fill="#1a1a1a">shVEGFA_2</text>
<text transform="translate(117.3 539.3) rotate(-45) scale(0.91 1)" font-size="9.29" text-anchor="end" fill="#1a1a1a">shCtrl</text>
<text transform="translate(216.3 431.43) scale(0.91 1)" font-size="9.79" font-weight="bold" text-anchor="middle" fill="#111">Cell Number</text>
<line x1="165.1" y1="452.3" x2="165.1" y2="535" stroke="#111" stroke-width="1.5"/>
<line x1="161.9" y1="532" x2="165.1" y2="532" stroke="#000" stroke-width="1.5"/>
<text transform="translate(158.4 535.15) scale(0.96 1)" font-size="9" text-anchor="end">0</text>
<line x1="161.9" y1="519.25" x2="165.1" y2="519.25" stroke="#000" stroke-width="1.5"/>
<text transform="translate(158.4 522.4) scale(0.96 1)" font-size="9" text-anchor="end">0.2</text>
<line x1="161.9" y1="506.5" x2="165.1" y2="506.5" stroke="#000" stroke-width="1.5"/>
<text transform="translate(158.4 509.65) scale(0.96 1)" font-size="9" text-anchor="end">0.4</text>
<line x1="161.9" y1="493.75" x2="165.1" y2="493.75" stroke="#000" stroke-width="1.5"/>
<text transform="translate(158.4 496.9) scale(0.96 1)" font-size="9" text-anchor="end">0.6</text>
<line x1="161.9" y1="481" x2="165.1" y2="481" stroke="#000" stroke-width="1.5"/>
<text transform="translate(158.4 484.15) scale(0.96 1)" font-size="9" text-anchor="end">0.8</text>
<line x1="161.9" y1="468.25" x2="165.1" y2="468.25" stroke="#000" stroke-width="1.5"/>
<text transform="translate(158.4 471.4) scale(0.96 1)" font-size="9" text-anchor="end">1</text>
<line x1="161.9" y1="455.5" x2="165.1" y2="455.5" stroke="#000" stroke-width="1.5"/>
<text transform="translate(158.4 458.65) scale(0.96 1)" font-size="9" text-anchor="end">1.2</text>
<line x1="165.1" y1="532" x2="266.5" y2="532" stroke="#111" stroke-width="1.5"/>
<line x1="190.5" y1="532" x2="190.5" y2="535" stroke="#000" stroke-width="1.5"/>
<line x1="216.2" y1="532" x2="216.2" y2="535" stroke="#000" stroke-width="1.5"/>
<line x1="241.6" y1="532" x2="241.6" y2="535" stroke="#000" stroke-width="1.5"/>
<text transform="translate(140.6 491.5) rotate(-90) scale(0.91 1)" font-size="10.07" text-anchor="middle" fill="#1a1a1a">Cell number (1x10<tspan font-size="7.05" dy="-3.4">6</tspan><tspan dy="3.4">)</tspan></text>
<rect x="173.8" y="468.2" width="8" height="63.8" fill="#a6002e" stroke="#000" stroke-opacity="0.3" stroke-width="0.7"/>
<line x1="177.8" y1="463.2" x2="177.8" y2="472.5" stroke="#000" stroke-width="1.2"/>
<line x1="175.8" y1="463.2" x2="179.8" y2="463.2" stroke="#000" stroke-width="1.2"/>
<line x1="175.8" y1="472.5" x2="179.8" y2="472.5" stroke="#000" stroke-width="1.2"/>
<rect x="199.4" y="490" width="7.8" height="42" fill="#2e4a82" stroke="#000" stroke-opacity="0.3" stroke-width="0.7"/>
<line x1="203.3" y1="486.6" x2="203.3" y2="492.5" stroke="#000" stroke-width="1.2"/>
<line x1="201.3" y1="486.6" x2="205.3" y2="486.6" stroke="#000" stroke-width="1.2"/>
<line x1="201.3" y1="492.5" x2="205.3" y2="492.5" stroke="#000" stroke-width="1.2"/>
<rect x="225" y="518.9" width="8.1" height="13.1" fill="#6aa83c" stroke="#000" stroke-opacity="0.3" stroke-width="0.7"/>
<line x1="229.05" y1="517.5" x2="229.05" y2="520.5" stroke="#000" stroke-width="1.2"/>
<line x1="227.05" y1="517.5" x2="231.05" y2="517.5" stroke="#000" stroke-width="1.2"/>
<line x1="227.05" y1="520.5" x2="231.05" y2="520.5" stroke="#000" stroke-width="1.2"/>
<rect x="249.9" y="508.5" width="9.2" height="23.5" fill="#de8a16" stroke="#000" stroke-opacity="0.3" stroke-width="0.7"/>
<line x1="254.5" y1="507.6" x2="254.5" y2="509.5" stroke="#000" stroke-width="1.2"/>
<line x1="252.5" y1="507.6" x2="256.5" y2="507.6" stroke="#000" stroke-width="1.2"/>
<line x1="252.5" y1="509.5" x2="256.5" y2="509.5" stroke="#000" stroke-width="1.2"/>
<polyline points="177.8,457.5 177.8,442.8 228.8,442.8 228.8,516" fill="none" stroke="#222" stroke-width="1.1"/>
<polyline points="177.8,448 202.5,448 202.5,481" fill="none" stroke="#222" stroke-width="1.1"/>
<polyline points="205.4,481.7 205.4,464.4 257.4,464.4 257.4,505" fill="none" stroke="#222" stroke-width="1.1"/>
<path d="M200.85 437.9 v2.8 M199.77 438.68 l2.16 1.24 M199.77 439.92 l2.16 -1.24" stroke="#111" stroke-width="0.85" fill="none"/>
<circle cx="200.85" cy="439.3" r="0.85" fill="#111"/>
<path d="M204.95 437.9 v2.8 M203.87 438.68 l2.16 1.24 M203.87 439.92 l2.16 -1.24" stroke="#111" stroke-width="0.85" fill="none"/>
<circle cx="204.95" cy="439.3" r="0.85" fill="#111"/>
<path d="M188.35 444.3 v2.8 M187.27 445.08 l2.16 1.24 M187.27 446.32 l2.16 -1.24" stroke="#111" stroke-width="0.85" fill="none"/>
<circle cx="188.35" cy="445.7" r="0.85" fill="#111"/>
<path d="M192.45 444.3 v2.8 M191.37 445.08 l2.16 1.24 M191.37 446.32 l2.16 -1.24" stroke="#111" stroke-width="0.85" fill="none"/>
<circle cx="192.45" cy="445.7" r="0.85" fill="#111"/>
<path d="M232.85 459.9 v2.8 M231.77 460.68 l2.16 1.24 M231.77 461.92 l2.16 -1.24" stroke="#111" stroke-width="0.85" fill="none"/>
<circle cx="232.85" cy="461.3" r="0.85" fill="#111"/>
<path d="M236.95 459.9 v2.8 M235.87 460.68 l2.16 1.24 M235.87 461.92 l2.16 -1.24" stroke="#111" stroke-width="0.85" fill="none"/>
<circle cx="236.95" cy="461.3" r="0.85" fill="#111"/>
<text transform="translate(181.8 538.8) rotate(-45) scale(0.91 1)" font-size="9.29" text-anchor="end" fill="#1a1a1a">shCtrl+Dox</text>
<text transform="translate(206.9 538.8) rotate(-45) scale(0.91 1)" font-size="9.29" text-anchor="end" fill="#1a1a1a">shCtrl-Dox</text>
<text transform="translate(233.1 538.8) rotate(-45) scale(0.91 1)" font-size="9.29" text-anchor="end" fill="#1a1a1a">shVEGFA_1+Dox</text>
<text transform="translate(256.9 538.8) rotate(-45) scale(0.91 1)" font-size="9.29" text-anchor="end" fill="#1a1a1a">shVEGFA_1-Dox</text>
<text transform="translate(352.8 435.13) scale(0.91 1)" font-size="9.79" font-weight="bold" text-anchor="middle" fill="#111">Cell Number</text>
<line x1="301.2" y1="448.1" x2="301.2" y2="534.7" stroke="#111" stroke-width="1.5"/>
<line x1="298" y1="531.7" x2="301.2" y2="531.7" stroke="#000" stroke-width="1.5"/>
<text transform="translate(294.9 534.85) scale(0.96 1)" font-size="9" text-anchor="end">0</text>
<line x1="298" y1="518.3" x2="301.2" y2="518.3" stroke="#000" stroke-width="1.5"/>
<text transform="translate(294.9 521.45) scale(0.96 1)" font-size="9" text-anchor="end">0.2</text>
<line x1="298" y1="504.9" x2="301.2" y2="504.9" stroke="#000" stroke-width="1.5"/>
<text transform="translate(294.9 508.05) scale(0.96 1)" font-size="9" text-anchor="end">0.4</text>
<line x1="298" y1="491.5" x2="301.2" y2="491.5" stroke="#000" stroke-width="1.5"/>
<text transform="translate(294.9 494.65) scale(0.96 1)" font-size="9" text-anchor="end">0.6</text>
<line x1="298" y1="478.1" x2="301.2" y2="478.1" stroke="#000" stroke-width="1.5"/>
<text transform="translate(294.9 481.25) scale(0.96 1)" font-size="9" text-anchor="end">0.8</text>
<line x1="298" y1="464.7" x2="301.2" y2="464.7" stroke="#000" stroke-width="1.5"/>
<text transform="translate(294.9 467.85) scale(0.96 1)" font-size="9" text-anchor="end">1</text>
<line x1="298" y1="451.3" x2="301.2" y2="451.3" stroke="#000" stroke-width="1.5"/>
<text transform="translate(294.9 454.45) scale(0.96 1)" font-size="9" text-anchor="end">1.2</text>
<line x1="301.2" y1="531.7" x2="403" y2="531.7" stroke="#111" stroke-width="1.5"/>
<line x1="326.8" y1="531.7" x2="326.8" y2="534.7" stroke="#000" stroke-width="1.5"/>
<line x1="351.4" y1="531.7" x2="351.4" y2="534.7" stroke="#000" stroke-width="1.5"/>
<line x1="376.2" y1="531.7" x2="376.2" y2="534.7" stroke="#000" stroke-width="1.5"/>
<text transform="translate(277.3 489.9) rotate(-90) scale(0.91 1)" font-size="10.07" text-anchor="middle" fill="#1a1a1a">Cell number (1x10<tspan font-size="7.05" dy="-3.4">6</tspan><tspan dy="3.4">)</tspan></text>
<rect x="310" y="464.8" width="8.3" height="66.9" fill="#a6002e" stroke="#000" stroke-opacity="0.3" stroke-width="0.7"/>
<line x1="314.15" y1="454.8" x2="314.15" y2="473.5" stroke="#000" stroke-width="1.2"/>
<line x1="312.15" y1="454.8" x2="316.15" y2="454.8" stroke="#000" stroke-width="1.2"/>
<line x1="312.15" y1="473.5" x2="316.15" y2="473.5" stroke="#000" stroke-width="1.2"/>
<rect x="334.6" y="490.8" width="8.1" height="40.9" fill="#2e4a82" stroke="#000" stroke-opacity="0.3" stroke-width="0.7"/>
<line x1="338.65" y1="487" x2="338.65" y2="494.8" stroke="#000" stroke-width="1.2"/>
<line x1="336.65" y1="487" x2="340.65" y2="487" stroke="#000" stroke-width="1.2"/>
<line x1="336.65" y1="494.8" x2="340.65" y2="494.8" stroke="#000" stroke-width="1.2"/>
<rect x="359.6" y="489.8" width="7.7" height="41.9" fill="#6aa83c" stroke="#000" stroke-opacity="0.3" stroke-width="0.7"/>
<line x1="363.45" y1="486" x2="363.45" y2="493.8" stroke="#000" stroke-width="1.2"/>
<line x1="361.45" y1="486" x2="365.45" y2="486" stroke="#000" stroke-width="1.2"/>
<line x1="361.45" y1="493.8" x2="365.45" y2="493.8" stroke="#000" stroke-width="1.2"/>
<rect x="383.7" y="484" width="9.6" height="47.7" fill="#de8a16" stroke="#000" stroke-opacity="0.3" stroke-width="0.7"/>
<line x1="388.5" y1="480.2" x2="388.5" y2="488.6" stroke="#000" stroke-width="1.2"/>
<line x1="386.5" y1="480.2" x2="390.5" y2="480.2" stroke="#000" stroke-width="1.2"/>
<line x1="386.5" y1="488.6" x2="390.5" y2="488.6" stroke="#000" stroke-width="1.2"/>
<polyline points="313.8,454.2 313.8,445 363.6,445 363.6,480.2" fill="none" stroke="#222" stroke-width="1.1"/>
<polyline points="313.8,450 337.8,450 337.8,480.2" fill="none" stroke="#222" stroke-width="1.1"/>
<polyline points="340.8,479.6 340.8,462.9 388.5,462.9 388.5,477.7" fill="none" stroke="#222" stroke-width="1.1"/>
<path d="M339.4 440.9 v2.8 M338.32 441.68 l2.16 1.24 M338.32 442.92 l2.16 -1.24" stroke="#111" stroke-width="0.85" fill="none"/>
<circle cx="339.4" cy="442.3" r="0.85" fill="#111"/>
<path d="M326 446.6 v2.8 M324.92 447.38 l2.16 1.24 M324.92 448.62 l2.16 -1.24" stroke="#111" stroke-width="0.85" fill="none"/>
<circle cx="326" cy="448" r="0.85" fill="#111"/>
<text transform="translate(371.8 460.51) scale(0.9 1)" font-size="8.6" text-anchor="middle">NS</text>
<text transform="translate(318.3 538.3) rotate(-45) scale(0.91 1)" font-size="9.29" text-anchor="end" fill="#1a1a1a">shCtrl+Dox</text>
<text transform="translate(343.1 538.3) rotate(-45) scale(0.91 1)" font-size="9.29" text-anchor="end" fill="#1a1a1a">shCtrl-Dox</text>
<text transform="translate(368.5 538.3) rotate(-45) scale(0.91 1)" font-size="9.29" text-anchor="end" fill="#1a1a1a">shVEGFA_2+Dox</text>
<text transform="translate(393.2 538.3) rotate(-45) scale(0.91 1)" font-size="9.29" text-anchor="end" fill="#1a1a1a">shVEGFA_2-Dox</text>
<text transform="translate(481.0 424.2) rotate(-45) scale(0.91 1)" font-size="9.6" font-weight="bold" text-anchor="end" fill="#111">-Dox</text>
<text transform="translate(510.5 423.6) rotate(-45) scale(0.91 1)" font-size="9.6" font-weight="bold" text-anchor="end" fill="#111">+Dox</text>
<clipPath id="cp1"><rect x="455.8" y="442.9" width="53.1" height="20.7"/></clipPath>
<rect x="455.8" y="442.9" width="53.1" height="20.7" fill="#8a8a8a" filter="url(#bl0)"/>
<text x="452.2" y="456.56" font-size="8.6" text-anchor="end">Bcl2</text>
<clipPath id="cp2"><rect x="455.8" y="468.6" width="53.1" height="20.4"/></clipPath>
<rect x="455.8" y="468.6" width="53.1" height="20.4" fill="#898989" filter="url(#bl0)"/>
<text x="452.2" y="482.11" font-size="8.6" text-anchor="end">Bax</text>
<clipPath id="cp3"><rect x="455.8" y="494.9" width="53.1" height="20.7"/></clipPath>
<rect x="455.8" y="494.9" width="53.1" height="20.7" fill="#a7a7a7" filter="url(#bl0)"/>
<text x="452.2" y="508.56" font-size="8.6" text-anchor="end">p-ERK</text>
<clipPath id="cp4"><rect x="455.8" y="520.3" width="53.1" height="20.7"/></clipPath>
<rect x="455.8" y="520.3" width="53.1" height="20.7" fill="#797979" filter="url(#bl0)"/>
<text x="452.2" y="533.96" font-size="8.6" text-anchor="end">Total ERK</text>
<clipPath id="cp5"><rect x="455.8" y="548" width="53.1" height="20.2"/></clipPath>
<rect x="455.8" y="548" width="53.1" height="20.2" fill="#858585" filter="url(#bl0)"/>
<text x="452.2" y="562.11" font-size="8.6" text-anchor="end">beta-actin</text>
<g clip-path="url(#cp1)"><rect x="458.5" y="453.3" width="20" height="5.4" rx="2.7" fill="#111" opacity="1" filter="url(#bl)" transform="rotate(-2.5 468.5 456)"/></g>
<g clip-path="url(#cp1)"><rect x="484.3" y="449" width="22.9" height="9.2" rx="4.6" fill="#111" opacity="1" filter="url(#bl)" transform="rotate(-2 495.75 453.6)"/></g>
<g clip-path="url(#cp2)"><rect x="458.7" y="477.9" width="20.3" height="8.2" rx="4.1" fill="#111" opacity="1" filter="url(#bl)" transform="rotate(0 468.85 482)"/></g>
<g clip-path="url(#cp2)"><rect x="485.6" y="479.3" width="18.8" height="6.2" rx="3.1" fill="#111" opacity="1" filter="url(#bl)" transform="rotate(-1 495 482.4)"/></g>
<g clip-path="url(#cp3)"><rect x="458.5" y="502" width="20.3" height="3.2" rx="1.6" fill="#333" opacity="0.5" filter="url(#bl2)" transform="rotate(0 468.65 503.6)"/></g>
<g clip-path="url(#cp3)"><rect x="458.5" y="506.8" width="20.3" height="3.2" rx="1.6" fill="#333" opacity="0.55" filter="url(#bl2)" transform="rotate(0 468.65 508.4)"/></g>
<g clip-path="url(#cp3)"><rect x="484.8" y="503.3" width="19.6" height="4.2" rx="2.1" fill="#151515" opacity="0.95" filter="url(#bl)" transform="rotate(1.2 494.6 505.4)"/></g>
<g clip-path="url(#cp3)"><rect x="484.8" y="508.1" width="19.6" height="3.8" rx="1.9" fill="#151515" opacity="0.95" filter="url(#bl)" transform="rotate(1.2 494.6 510)"/></g>
<ellipse cx="469.5" cy="526" rx="7.5" ry="3.6" fill="#333" opacity="0.6" filter="url(#bl2)" clip-path="url(#cp4)"/>
<g clip-path="url(#cp4)"><rect x="460.8" y="526.6" width="19.2" height="4.2" rx="2.1" fill="#151515" opacity="1" filter="url(#bl)" transform="rotate(-0.5 470.4 528.7)"/></g>
<g clip-path="url(#cp4)"><rect x="460.8" y="532.1" width="18.7" height="4" rx="2" fill="#151515" opacity="1" filter="url(#bl)" transform="rotate(0 470.15 534.1)"/></g>
<g clip-path="url(#cp4)"><rect x="487.2" y="526.4" width="19.2" height="3.4" rx="1.7" fill="#151515" opacity="1" filter="url(#bl)" transform="rotate(-5.5 496.8 528.1)"/></g>
<g clip-path="url(#cp4)"><rect x="487.2" y="531.7" width="19.2" height="3.6" rx="1.8" fill="#151515" opacity="1" filter="url(#bl)" transform="rotate(-4.5 496.8 533.5)"/></g>
<g clip-path="url(#cp5)"><rect x="459.8" y="556.8" width="20" height="5.2" rx="2.6" fill="#151515" opacity="1" filter="url(#bl)" transform="rotate(0 469.8 559.4)"/></g>
<g clip-path="url(#cp5)"><rect x="486.3" y="556.7" width="19.9" height="5.2" rx="2.6" fill="#151515" opacity="1" filter="url(#bl)" transform="rotate(0 496.25 559.3)"/></g>
<text transform="translate(138.6 612.26) scale(0.91 1)" font-size="9.9" font-weight="bold" text-anchor="middle" fill="#111">SU1498 Treatment</text>
<line x1="46.2" y1="623.1" x2="46.2" y2="722.6" stroke="#111" stroke-width="1.5"/>
<line x1="43" y1="719.6" x2="46.2" y2="719.6" stroke="#000" stroke-width="1.5"/>
<text transform="translate(39.6 722.75) scale(0.96 1)" font-size="9" text-anchor="end">0</text>
<line x1="43" y1="688.5" x2="46.2" y2="688.5" stroke="#000" stroke-width="1.5"/>
<text transform="translate(39.6 691.65) scale(0.96 1)" font-size="9" text-anchor="end">5</text>
<line x1="43" y1="657.4" x2="46.2" y2="657.4" stroke="#000" stroke-width="1.5"/>
<text transform="translate(39.6 660.55) scale(0.96 1)" font-size="9" text-anchor="end">10</text>
<line x1="43" y1="626.3" x2="46.2" y2="626.3" stroke="#000" stroke-width="1.5"/>
<text transform="translate(39.6 629.45) scale(0.96 1)" font-size="9" text-anchor="end">15</text>
<line x1="46.2" y1="719.6" x2="232.2" y2="719.6" stroke="#111" stroke-width="1.5"/>
<line x1="82.7" y1="719.6" x2="82.7" y2="722.6" stroke="#000" stroke-width="1.5"/>
<line x1="119.8" y1="719.6" x2="119.8" y2="722.6" stroke="#000" stroke-width="1.5"/>
<line x1="156.8" y1="719.6" x2="156.8" y2="722.6" stroke="#000" stroke-width="1.5"/>
<line x1="193.8" y1="719.6" x2="193.8" y2="722.6" stroke="#000" stroke-width="1.5"/>
<line x1="230.9" y1="719.6" x2="230.9" y2="722.6" stroke="#000" stroke-width="1.5"/>
<text x="64.8" y="733.94" font-size="8.4" text-anchor="middle">Day0</text>
<text x="101.4" y="733.94" font-size="8.4" text-anchor="middle">Day2</text>
<text x="138.5" y="733.94" font-size="8.4" text-anchor="middle">Day4</text>
<text x="175.2" y="733.94" font-size="8.4" text-anchor="middle">Day6</text>
<text x="212.2" y="733.94" font-size="8.4" text-anchor="middle">Day8</text>
<text transform="translate(24.3 671.2) rotate(-90) scale(0.91 1)" font-size="10.07" text-anchor="middle" fill="#1a1a1a">Cell number (1x10<tspan font-size="7.05" dy="-3.4">6</tspan><tspan dy="3.4">)</tspan></text>
<polyline points="64.8,718.3 101.4,716.4 138.5,699.4 175.2,680.8 212.2,635.8" fill="none" stroke="#a3082c" stroke-width="1.7"/>
<polyline points="64.8,718.5 101.4,716.5 138.5,707.2 175.2,700.6 212.2,690.8" fill="none" stroke="#2f6a56" stroke-width="1.7"/>
<polyline points="64.8,718.5 101.4,716.4 138.5,706.2 175.2,698.6 212.2,684" fill="none" stroke="#2c4c78" stroke-width="1.7"/>
<polyline points="64.8,718.7 101.4,716.6 138.5,708.6 175.2,705 212.2,695.9" fill="none" stroke="#a2a2cc" stroke-width="1.4" stroke-dasharray="1.6 1.2"/>
<line x1="212.2" y1="632.8" x2="212.2" y2="638.6" stroke="#222" stroke-width="1"/>
<line x1="210.5" y1="632.8" x2="213.9" y2="632.8" stroke="#222" stroke-width="1"/>
<line x1="210.5" y1="638.6" x2="213.9" y2="638.6" stroke="#222" stroke-width="1"/>
<line x1="212.2" y1="679" x2="212.2" y2="688" stroke="#222" stroke-width="1"/>
<line x1="210.5" y1="679" x2="213.9" y2="679" stroke="#222" stroke-width="1"/>
<line x1="210.5" y1="688" x2="213.9" y2="688" stroke="#222" stroke-width="1"/>
<line x1="212.2" y1="693" x2="212.2" y2="700.8" stroke="#222" stroke-width="1"/>
<line x1="210.5" y1="693" x2="213.9" y2="693" stroke="#222" stroke-width="1"/>
<line x1="210.5" y1="700.8" x2="213.9" y2="700.8" stroke="#222" stroke-width="1"/>
<line x1="175.2" y1="678.2" x2="175.2" y2="683.4" stroke="#222" stroke-width="1"/>
<line x1="173.6" y1="678.2" x2="176.8" y2="678.2" stroke="#222" stroke-width="1"/>
<line x1="173.6" y1="683.4" x2="176.8" y2="683.4" stroke="#222" stroke-width="1"/>
<circle cx="64.8" cy="718.3" r="2.7" fill="#a3082c"/>
<circle cx="101.4" cy="716.4" r="2.7" fill="#a3082c"/>
<circle cx="138.5" cy="699.4" r="2.7" fill="#a3082c"/>
<circle cx="175.2" cy="680.8" r="2.7" fill="#a3082c"/>
<circle cx="212.2" cy="635.8" r="2.7" fill="#a3082c"/>
<path d="M64.8 716.4 l2.1 2.1 l-2.1 2.1 l-2.1 -2.1z" fill="#2f6a56"/>
<path d="M101.4 714.4 l2.1 2.1 l-2.1 2.1 l-2.1 -2.1z" fill="#2f6a56"/>
<path d="M138.5 705.1 l2.1 2.1 l-2.1 2.1 l-2.1 -2.1z" fill="#2f6a56"/>
<path d="M175.2 698.5 l2.1 2.1 l-2.1 2.1 l-2.1 -2.1z" fill="#2f6a56"/>
<path d="M212.2 688.7 l2.1 2.1 l-2.1 2.1 l-2.1 -2.1z" fill="#2f6a56"/>
<path d="M64.8 715.6 l2.7 4.5 h-5.4z" fill="#2c4c78"/>
<path d="M101.4 713.5 l2.7 4.5 h-5.4z" fill="#2c4c78"/>
<path d="M138.5 703.3 l2.7 4.5 h-5.4z" fill="#2c4c78"/>
<path d="M175.2 695.7 l2.7 4.5 h-5.4z" fill="#2c4c78"/>
<path d="M212.2 681.1 l2.7 4.5 h-5.4z" fill="#2c4c78"/>
<rect x="62.6" y="716.5" width="4.4" height="4.4" fill="#d2d2e6" stroke="#a2a2cc" stroke-width="0.9"/>
<rect x="99.2" y="714.4" width="4.4" height="4.4" fill="#d2d2e6" stroke="#a2a2cc" stroke-width="0.9"/>
<rect x="136.3" y="706.4" width="4.4" height="4.4" fill="#d2d2e6" stroke="#a2a2cc" stroke-width="0.9"/>
<rect x="173" y="702.8" width="4.4" height="4.4" fill="#d2d2e6" stroke="#a2a2cc" stroke-width="0.9"/>
<rect x="210" y="693.7" width="4.4" height="4.4" fill="#d2d2e6" stroke="#a2a2cc" stroke-width="0.9"/>
<polyline points="216.3,634.6 220.8,634.6 220.8,690.7 216.3,690.7" fill="none" stroke="#222" stroke-width="1.1"/>
<polyline points="216.3,683.7 223.3,683.7 223.3,696 216.3,696" fill="none" stroke="#222" stroke-width="1.1"/>
<path d="M223.85 659.3 v2.8 M222.77 660.08 l2.16 1.24 M222.77 661.32 l2.16 -1.24" stroke="#111" stroke-width="0.85" fill="none"/>
<circle cx="223.85" cy="660.7" r="0.85" fill="#111"/>
<path d="M227.95 659.3 v2.8 M226.87 660.08 l2.16 1.24 M226.87 661.32 l2.16 -1.24" stroke="#111" stroke-width="0.85" fill="none"/>
<circle cx="227.95" cy="660.7" r="0.85" fill="#111"/>
<path d="M227.4 687.6 v2.8 M226.32 688.38 l2.16 1.24 M226.32 689.62 l2.16 -1.24" stroke="#111" stroke-width="0.85" fill="none"/>
<circle cx="227.4" cy="689" r="0.85" fill="#111"/>
<line x1="51.2" y1="627.9" x2="69.5" y2="627.9" stroke="#a3082c" stroke-width="1.8"/>
<line x1="51.2" y1="627.9" x2="69.5" y2="627.9" stroke="#000" stroke-width="1.8" stroke-opacity="0.3"/>
<circle cx="60.4" cy="627.9" r="2.7" fill="#a3082c"/>
<text transform="translate(72.5 630.69) scale(0.93 1)" font-size="7.4" fill="#2a2a2a" style="stroke-width:0.08px">AF9+Ri125b+Dox+DMSO</text>
<line x1="51.2" y1="638.9" x2="69.5" y2="638.9" stroke="#2f6a56" stroke-width="1.8"/>
<line x1="51.2" y1="638.9" x2="69.5" y2="638.9" stroke="#000" stroke-width="1.8" stroke-opacity="0.3"/>
<path d="M60.4 636.8 l2.1 2.1 l-2.1 2.1 l-2.1 -2.1z" fill="#2f6a56"/>
<text transform="translate(72.5 641.69) scale(0.93 1)" font-size="7.4" fill="#2a2a2a" style="stroke-width:0.08px">AF9+Ri125b+Dox+SU1498</text>
<line x1="51.2" y1="650.4" x2="69.5" y2="650.4" stroke="#2c4c78" stroke-width="1.8"/>
<line x1="51.2" y1="650.4" x2="69.5" y2="650.4" stroke="#000" stroke-width="1.8" stroke-opacity="0.3"/>
<path d="M60.4 647.5 l2.7 4.5 h-5.4z" fill="#2c4c78"/>
<text transform="translate(72.5 653.19) scale(0.93 1)" font-size="7.4" fill="#2a2a2a" style="stroke-width:0.08px">AF9+Ri125b-Dox+DMSO</text>
<line x1="51.2" y1="661.1" x2="69.5" y2="661.1" stroke="#a2a2cc" stroke-width="1.3" stroke-dasharray="1.6 1.2"/>
<rect x="58.2" y="658.9" width="4.4" height="4.4" fill="#d2d2e6" stroke="#a2a2cc" stroke-width="0.9"/>
<text transform="translate(72.5 663.89) scale(0.93 1)" font-size="7.4" fill="#2a2a2a" style="stroke-width:0.08px">AF9+Ri125b-Dox+SU1498</text>
<clipPath id="cp6"><rect x="332.5" y="608.8" width="53.8" height="20.7"/></clipPath>
<rect x="332.5" y="608.8" width="53.8" height="20.7" fill="#9b9b9b" filter="url(#bl0)"/>
<clipPath id="cp7"><rect x="395" y="609.5" width="53.8" height="20.5"/></clipPath>
<rect x="395" y="609.5" width="53.8" height="20.5" fill="#9b9b9b" filter="url(#bl0)"/>
<text x="329.5" y="622.16" font-size="8.6" text-anchor="end">Bcl2</text>
<clipPath id="cp8"><rect x="332.5" y="635" width="53.8" height="20.5"/></clipPath>
<rect x="332.5" y="635" width="53.8" height="20.5" fill="#7d7d7d" filter="url(#bl0)"/>
<clipPath id="cp9"><rect x="395" y="635.5" width="53.8" height="20.8"/></clipPath>
<rect x="395" y="635.5" width="53.8" height="20.8" fill="#8b8b8b" filter="url(#bl0)"/>
<text x="329.5" y="648.26" font-size="8.6" text-anchor="end">p-ERK</text>
<clipPath id="cp10"><rect x="332.5" y="659.6" width="53.8" height="20.9"/></clipPath>
<rect x="332.5" y="659.6" width="53.8" height="20.9" fill="#8a8a8a" filter="url(#bl0)"/>
<clipPath id="cp11"><rect x="395" y="662" width="53.8" height="20.5"/></clipPath>
<rect x="395" y="662" width="53.8" height="20.5" fill="#8a8a8a" filter="url(#bl0)"/>
<text x="329.5" y="673.06" font-size="8.6" text-anchor="end">Total ERK</text>
<clipPath id="cp12"><rect x="332.5" y="686.3" width="53.8" height="20.7"/></clipPath>
<rect x="332.5" y="686.3" width="53.8" height="20.7" fill="#a0a0a0" filter="url(#bl0)"/>
<clipPath id="cp13"><rect x="395" y="687.5" width="53.8" height="20.5"/></clipPath>
<rect x="395" y="687.5" width="53.8" height="20.5" fill="#a0a0a0" filter="url(#bl0)"/>
<text x="329.5" y="699.66" font-size="8.6" text-anchor="end">beta-actin</text>
<g clip-path="url(#cp6)"><rect x="335.6" y="618.6" width="22.6" height="4" rx="2" fill="#161616" opacity="1" filter="url(#bl)" transform="rotate(0 346.9 620.6)"/></g>
<g clip-path="url(#cp6)"><rect x="363.3" y="618.95" width="19.7" height="2.9" rx="1.45" fill="#222" opacity="0.95" filter="url(#bl)" transform="rotate(-0.5 373.15 620.4)"/></g>
<g clip-path="url(#cp7)"><rect x="397" y="619.1" width="20.5" height="3.6" rx="1.8" fill="#1a1a1a" opacity="1" filter="url(#bl)" transform="rotate(-4 407.25 620.9)"/></g>
<g clip-path="url(#cp7)"><rect x="422.4" y="617.6" width="20.8" height="3.6" rx="1.8" fill="#1a1a1a" opacity="1" filter="url(#bl)" transform="rotate(-2 432.8 619.4)"/></g>
<g clip-path="url(#cp8)"><rect x="335.5" y="642.4" width="22.5" height="2.8" rx="1.4" fill="#1e1e1e" opacity="0.85" filter="url(#bl)" transform="rotate(0 346.75 643.8)"/></g>
<g clip-path="url(#cp8)"><rect x="335.5" y="648.2" width="22.5" height="2.6" rx="1.3" fill="#1e1e1e" opacity="0.8" filter="url(#bl)" transform="rotate(0 346.75 649.5)"/></g>
<g clip-path="url(#cp8)"><rect x="363" y="642.6" width="21" height="2.4" rx="1.2" fill="#2a2a2a" opacity="0.55" filter="url(#bl)" transform="rotate(0 373.5 643.8)"/></g>
<g clip-path="url(#cp8)"><rect x="363" y="648.4" width="21" height="2.2" rx="1.1" fill="#2a2a2a" opacity="0.5" filter="url(#bl)" transform="rotate(0 373.5 649.5)"/></g>
<g clip-path="url(#cp9)"><rect x="397" y="644.1" width="21" height="2.4" rx="1.2" fill="#2a2a2a" opacity="0.5" filter="url(#bl)" transform="rotate(-1 407.5 645.3)"/></g>
<g clip-path="url(#cp9)"><rect x="397" y="648.9" width="21" height="2.2" rx="1.1" fill="#2a2a2a" opacity="0.42" filter="url(#bl)" transform="rotate(-1 407.5 650)"/></g>
<g clip-path="url(#cp9)"><rect x="421.5" y="642.4" width="22" height="2.4" rx="1.2" fill="#2a2a2a" opacity="0.45" filter="url(#bl)" transform="rotate(-3 432.5 643.6)"/></g>
<g clip-path="url(#cp9)"><rect x="421.5" y="647.1" width="22" height="2.2" rx="1.1" fill="#2a2a2a" opacity="0.4" filter="url(#bl)" transform="rotate(-3 432.5 648.2)"/></g>
<g clip-path="url(#cp10)"><rect x="333" y="663.9" width="53" height="5" rx="2.5" fill="#1e1e1e" opacity="0.9" filter="url(#bl)" transform="rotate(0 359.5 666.4)"/></g>
<g clip-path="url(#cp10)"><rect x="333" y="670.6" width="53" height="5.4" rx="2.7" fill="#1e1e1e" opacity="0.92" filter="url(#bl)" transform="rotate(0 359.5 673.3)"/></g>
<g clip-path="url(#cp11)"><rect x="395.5" y="666.7" width="53" height="5" rx="2.5" fill="#1e1e1e" opacity="0.9" filter="url(#bl)" transform="rotate(-0.3 422 669.2)"/></g>
<g clip-path="url(#cp11)"><rect x="395.5" y="672.6" width="53" height="5.2" rx="2.6" fill="#1e1e1e" opacity="0.92" filter="url(#bl)" transform="rotate(-0.3 422 675.2)"/></g>
<g clip-path="url(#cp12)"><rect x="335" y="697.5" width="22.5" height="2.6" rx="1.3" fill="#222" opacity="0.8" filter="url(#bl)" transform="rotate(0 346.25 698.8)"/></g>
<g clip-path="url(#cp12)"><rect x="363" y="696.9" width="21" height="2.8" rx="1.4" fill="#222" opacity="0.8" filter="url(#bl)" transform="rotate(-2 373.5 698.3)"/></g>
<g clip-path="url(#cp13)"><rect x="397" y="697.6" width="20.5" height="2.6" rx="1.3" fill="#222" opacity="0.8" filter="url(#bl)" transform="rotate(-0.8 407.25 698.9)"/></g>
<g clip-path="url(#cp13)"><rect x="422" y="695.7" width="21" height="3" rx="1.5" fill="#222" opacity="0.8" filter="url(#bl)" transform="rotate(-4 432.5 697.2)"/></g>
<text x="329.4" y="720.81" font-size="8.6" text-anchor="end">Dox:</text>
<text x="343.7" y="721.08" font-size="6.8" text-anchor="middle" fill="#2a2a2a">+</text>
<text x="373.8" y="721.08" font-size="6.8" text-anchor="middle" fill="#2a2a2a">+</text>
<text x="409.2" y="720.78" font-size="6.8" text-anchor="middle" fill="#2a2a2a">-</text>
<text x="435.4" y="720.78" font-size="6.8" text-anchor="middle" fill="#2a2a2a">-</text>
<text x="329.4" y="734.71" font-size="8.6" text-anchor="end">DMSO:</text>
<text x="343.7" y="734.98" font-size="6.8" text-anchor="middle" fill="#2a2a2a">+</text>
<text x="373.8" y="734.68" font-size="6.8" text-anchor="middle" fill="#2a2a2a">-</text>
<text x="409.2" y="734.98" font-size="6.8" text-anchor="middle" fill="#2a2a2a">+</text>
<text x="435.4" y="734.68" font-size="6.8" text-anchor="middle" fill="#2a2a2a">-</text>
<text x="329.4" y="749.21" font-size="8.6" text-anchor="end">SU1498:</text>
<text x="343.7" y="749.18" font-size="6.8" text-anchor="middle" fill="#2a2a2a">-</text>
<text x="373.8" y="749.48" font-size="6.8" text-anchor="middle" fill="#2a2a2a">+</text>
<text x="409.2" y="749.18" font-size="6.8" text-anchor="middle" fill="#2a2a2a">-</text>
<text x="435.4" y="749.48" font-size="6.8" text-anchor="middle" fill="#2a2a2a">+</text>
<rect x="0" y="0" width="520" height="1.2" fill="#000"/>
<rect x="0" y="0" width="1.3" height="758" fill="#000"/>
<rect x="518" y="0" width="2" height="758" fill="#000"/>
<rect x="0" y="756.4" width="520" height="1.6" fill="#000"/>
</svg></body></html>
